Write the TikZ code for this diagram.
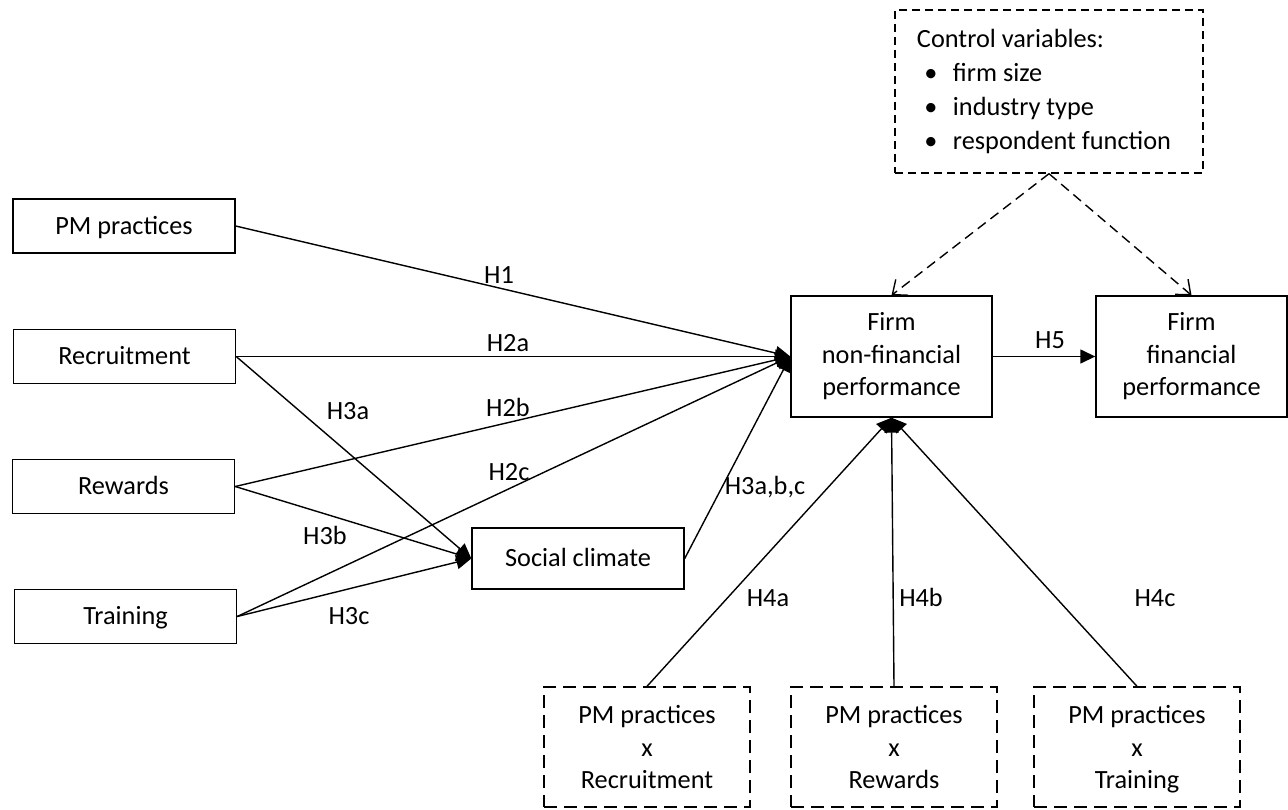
\documentclass[tikz,border=0pt]{standalone}
\usepackage{fontspec}
\setmainfont{Carlito}
\usetikzlibrary{arrows.meta}
\newcommand\diafont{\fontsize{13.15pt}{16.25pt}\selectfont}
\begin{document}
\begin{tikzpicture}[x=0.5pt,y=-0.5pt,
  box/.style={draw, line width=0.7pt, inner sep=0pt, align=center, font=\diafont},
  sbox/.style={box, minimum width=111pt, minimum height=27pt, text height=11.46pt, text depth=3pt},
  ibox/.style={box, minimum width=103pt, minimum height=60pt, dash pattern=on 6.5pt off 3.5pt},
  lab/.style={inner sep=0pt, font=\diafont, text height=11.46pt, text depth=3pt},
  arr/.style={line width=0.7pt, -{Triangle[length=7.5pt,width=7pt]}},
  darr/.style={line width=0.7pt, dash pattern=on 5pt off 3pt, -{Straight Barb[length=6pt,width=10pt]}}]
\useasboundingbox (0,0) rectangle (1288,809);
% left boxes
\node[sbox] (pm)  at (124,226)   {PM practices};
\node[sbox] (rec) at (124.5,356.5) {Recruitment};
\node[sbox] (rew) at (123.5,486.5) {Rewards};
\node[sbox] (tr)  at (125.5,616.5) {Training};
\node[sbox, minimum width=106pt, minimum height=30.5pt] (sc) at (578,558.5) {Social climate};
% outcome boxes
\node[box, minimum width=100.5pt, minimum height=60.5pt] (nf) at (891.5,356.5) {Firm\\non-financial\\performance};
\node[box, minimum width=95.5pt, minimum height=60.5pt] (ff) at (1191.5,356.5) {Firm\\financial\\performance};
% control variables
\node[box, minimum width=154pt, minimum height=81.5pt, dash pattern=on 4pt off 2.5pt,
      font=\fontsize{13.15pt}{16.85pt}\selectfont, align=left] (cv) at (1049,91.5)
  {Control variables:\\
   \hspace*{3.5pt}\makebox[7pt]{•}\hspace{7.5pt}firm size\\
   \hspace*{3.5pt}\makebox[7pt]{•}\hspace{7.5pt}industry type\\
   \hspace*{3.5pt}\makebox[7pt]{•}\hspace{7.5pt}respondent function\hspace*{5pt}\mbox{}};
% interaction boxes
\node[ibox] (b1) at (647,747)  {PM practices\\x\\Recruitment};
\node[ibox] (b2) at (894,747)  {PM practices\\x\\Rewards};
\node[ibox] (b3) at (1137,747) {PM practices\\x\\\raisebox{0pt}[\height][0pt]{Training}};
% connectors
\draw[arr] (pm.east)  -- (nf.west);
\draw[arr] (rec.east) -- (nf.west);
\draw[arr] (rew.east) -- (nf.west);
\draw[arr] (tr.east)  -- (nf.west);
\draw[arr] (rec.east) -- (sc.west);
\draw[arr] (rew.east) -- (sc.west);
\draw[arr] (tr.east)  -- (sc.west);
\draw[arr] (sc.east)  -- (nf.west);
\draw[arr] (b1.north) -- (nf.south);
\draw[arr] (b2.north) -- (nf.south);
\draw[arr] (b3.north) -- (nf.south);
\draw[arr] (nf.east)  -- (ff.west);
\draw[darr] (cv.south) -- (nf.north);
\draw[darr] (cv.south) -- (ff.north);
% labels
\node[lab] (l1)  at (499,275) {H1};
\node[lab] (l2a) at (508,343) {H2a};
\node[lab] (l2b) at (508,408) {H2b};
\node[lab] (l2c) at (509,472) {H2c};
\node[lab] (l3a) at (348,411) {H3a};
\node[lab] (l3b) at (325,536) {H3b};
\node[lab] (l3c) at (349,616) {H3c};
\node[lab] (l3) at (765,486) {H3a,b,c};
\node[lab] (l4a) at (768,598) {H4a};
\node[lab] (l4b) at (921,598) {H4b};
\node[lab] (l4c) at (1155,598) {H4c};
\node[lab] (l5)  at (1050,340) {H5};
\end{tikzpicture}
\end{document}
